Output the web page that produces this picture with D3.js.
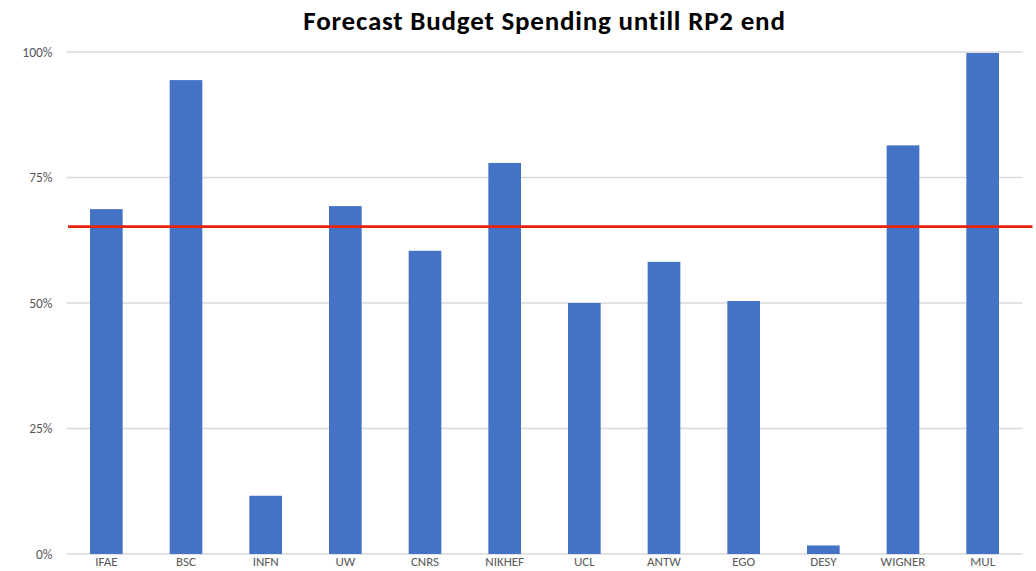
<!DOCTYPE html>
<html>
<head>
<meta charset="utf-8">
<script src="https://cdn.jsdelivr.net/npm/d3@7"></script>
<style>
  body { margin: 0; background: #fff; }
  text { font-family: Carlito, "Liberation Sans Narrow", "Open Sans", sans-serif; }
</style>
</head>
<body>
<svg id="chart" width="1036" height="571"></svg>
<script>
// data
var partners = ["IFAE", "BSC", "INFN", "UW", "CNRS", "NIKHEF", "UCL", "ANTW", "EGO", "DESY", "WIGNER", "MUL"];
var spending = [0.687, 0.944, 0.116, 0.693, 0.604, 0.779, 0.500, 0.582, 0.504, 0.017, 0.814, 0.998];
var yTicks = [0, 0.25, 0.5, 0.75, 1];
var target = 0.652;

var svg = d3.select("#chart");
var margin = {top: 52, right: 13.5, bottom: 17, left: 66.5},
    width = +svg.attr("width") - margin.left - margin.right,
    height = +svg.attr("height") - margin.top - margin.bottom;

var g = svg.append("g")
    .attr("transform", "translate(" + margin.left + "," + margin.top + ")");

// title
svg.append("text")
    .attr("x", margin.left + width / 2)
    .attr("y", 30)
    .attr("text-anchor", "middle")
    .style("font-size", "27px")
    .style("font-weight", "bold")
    .style("letter-spacing", "0.8px")
    .style("fill", "#000")
    .text("Forecast Budget Spending untill RP2 end");

var x = d3.scaleBand()
    .domain(partners)
    .range([0, width])
    .paddingInner(0.59)
    .paddingOuter(0.295);

var y = d3.scaleLinear()
    .domain([0, 1])
    .range([height, 0]);

// gridlines
g.append("g")
    .selectAll("line")
    .data(yTicks)
    .enter()
    .append("line")
        .attr("x1", 0)
        .attr("x2", width)
        .attr("y1", function(d) { return y(d); })
        .attr("y2", function(d) { return y(d); })
        .style("stroke", "#d9d9d9")
        .style("stroke-width", 1.3);

// y axis labels
var yAxis = g.append("g")
    .call(d3.axisLeft(y).tickValues(yTicks).tickFormat(d3.format(".0%")).tickSize(0).tickPadding(14));
yAxis.select(".domain").remove();
yAxis.selectAll("text")
    .style("font-size", "13.5px")
    .style("fill", "#595959");

// x axis labels
var xAxis = g.append("g")
    .attr("transform", "translate(0," + height + ")")
    .call(d3.axisBottom(x).tickSize(0).tickPadding(3));
xAxis.select(".domain").remove();
xAxis.selectAll("text")
    .style("font-size", "13px")
    .style("fill", "#595959");

// bars
g.selectAll(".bar")
    .data(spending)
    .enter()
    .append("rect")
        .attr("class", "bar")
        .attr("x", function(d, i) { return x(partners[i]); })
        .attr("y", function(d) { return y(d); })
        .attr("width", x.bandwidth())
        .attr("height", function(d) { return height - y(d); })
        .style("fill", "#4472c4");

// target line
g.append("line")
    .attr("x1", 1.5)
    .attr("x2", width + 10)
    .attr("y1", y(target))
    .attr("y2", y(target))
    .style("stroke", "#e8220e")
    .style("stroke-width", 2.8);
</script>
</body>
</html>
